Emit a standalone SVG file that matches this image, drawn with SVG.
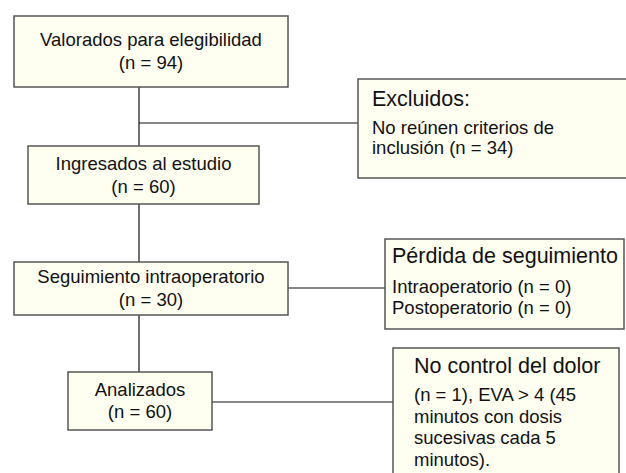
<svg xmlns="http://www.w3.org/2000/svg" width="626" height="473" viewBox="0 0 626 473">
<style>
.box{fill:#fefef1;stroke:#555;stroke-width:1.5}
.t{font-family:"Liberation Sans",Arial,sans-serif;font-size:18.5px;fill:#111}
.c{text-anchor:middle}
.h{font-size:21.5px}
.s{font-size:18.5px}
.ln{stroke:#111;stroke-width:1.2;fill:none}
</style>
<rect width="626" height="473" fill="#fff"/>
<g id="connectors">
<line class="ln" x1="139" y1="87" x2="139" y2="146" stroke="#555"/>
<line class="ln" x1="139" y1="123" x2="358" y2="123"/>
<line class="ln" x1="139" y1="204" x2="139" y2="262"/>
<line class="ln" x1="288" y1="288" x2="385" y2="288"/>
<line class="ln" x1="139" y1="315" x2="139" y2="372"/>
<line class="ln" x1="212" y1="402" x2="393" y2="402"/>
</g>
<g id="n1">
<rect class="box" x="14" y="16" width="274" height="71"/>
<text class="t c" x="151" y="46">Valorados para elegibilidad</text>
<text class="t c" x="151" y="69">(n = 94)</text>
</g>
<g id="n2">
<rect class="box" x="28" y="146" width="231" height="58"/>
<text class="t c" x="143.5" y="170">Ingresados al estudio</text>
<text class="t c" x="143.5" y="193">(n = 60)</text>
</g>
<g id="n3">
<rect class="box" x="14" y="262" width="274" height="53"/>
<text class="t c" x="151" y="283">Seguimiento intraoperatorio</text>
<text class="t c" x="151" y="306">(n = 30)</text>
</g>
<g id="n4">
<rect class="box" x="68" y="372" width="144" height="58"/>
<text class="t c" x="140" y="396">Analizados</text>
<text class="t c" x="140" y="418">(n = 60)</text>
</g>
<g id="n5">
<rect class="box" x="358" y="79" width="280" height="99"/>
<text class="t h" x="372" y="106">Excluidos:</text>
<text class="t s" x="372" y="134">No reúnen criterios de</text>
<text class="t s" x="372" y="154">inclusión (n = 34)</text>
</g>
<g id="n6">
<rect class="box" x="385" y="239" width="239" height="90"/>
<text class="t h" x="392" y="263">Pérdida de seguimiento</text>
<text class="t s" x="392" y="293">Intraoperatorio (n = 0)</text>
<text class="t s" x="392" y="314">Postoperatorio (n = 0)</text>
</g>
<g id="n7">
<rect class="box" x="393" y="348" width="226" height="140"/>
<text class="t h" x="414" y="373">No control del dolor</text>
<text class="t s" x="414" y="401">(n = 1), EVA &gt; 4 (45</text>
<text class="t s" x="414" y="423">minutos con dosis</text>
<text class="t s" x="414" y="444">sucesivas cada 5</text>
<text class="t s" x="414" y="466">minutos).</text>
</g>
</svg>
